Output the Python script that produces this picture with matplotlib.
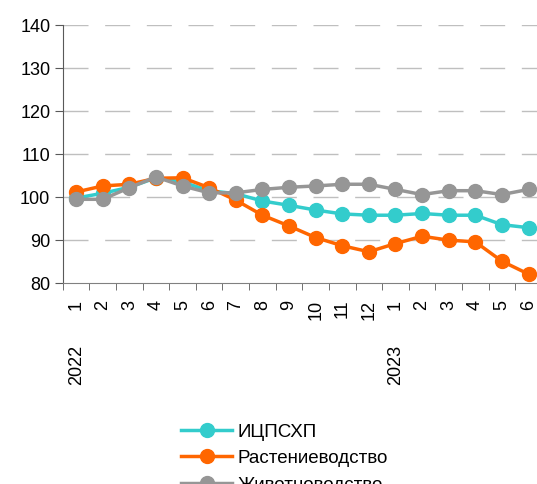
import matplotlib.pyplot as plt
from matplotlib.transforms import blended_transform_factory

plt.rcParams["font.family"] = ["Liberation Sans", "DejaVu Sans"]

# Data
months = ["1", "2", "3", "4", "5", "6", "7", "8", "9", "10", "11", "12",
          "1", "2", "3", "4", "5", "6"]
years = ["2022", "2023"]
year_start = [0, 12]
icpshp = [99.8, 100.9, 102.3, 104.5, 103.5, 101.5, 100.8, 99.1, 98.1, 97.0,
          96.1, 95.8, 95.8, 96.2, 95.8, 95.8, 93.6, 92.9]
plant = [101.2, 102.6, 103.0, 104.4, 104.5, 102.2, 99.3, 95.8, 93.3, 90.6,
         88.7, 87.3, 89.2, 90.9, 90.0, 89.6, 85.1, 82.1]
animal = [99.5, 99.5, 102.2, 104.7, 102.6, 101.0, 101.0, 101.8, 102.3, 102.6,
          103.0, 103.0, 101.8, 100.6, 101.5, 101.5, 100.6, 101.8]

fig = plt.figure(figsize=(5.37, 4.84), dpi=100)
ax = fig.add_axes([0.117, 0.415, 0.892, 0.533])

x = list(range(len(months)))
style = dict(marker="o", markersize=10, linewidth=2.5)
ax.plot(x, icpshp, color="#33CCCC", label="ИЦПСХП", **style)
ax.plot(x, plant, color="#FF6600", label="Растениеводство", **style)
ax.plot(x, animal, color="#969696", label="Животноводство", **style)

ax.set_ylim(80, 140)
ax.set_yticks(range(80, 141, 10))
ax.set_xlim(-0.5, len(months) - 0.5)

# category labels at centres, tick marks at boundaries
ax.set_xticks(x)
ax.set_xticklabels(months, rotation=90)
ax.set_xticks([i - 0.5 for i in range(len(months) + 1)], minor=True)
ax.tick_params(axis="x", which="major", length=0, pad=12, labelsize=13)
ax.tick_params(axis="x", which="minor", length=5, direction="out", color="#595959")
ax.tick_params(axis="y", length=6, direction="out", color="#595959", labelsize=13, pad=3)

# dashed horizontal grid
for v in range(90, 141, 10):
    ax.axhline(v, color="#BFBFBF", linewidth=1, linestyle=(0, (18, 12)), zorder=0)

for s in ["top", "right"]:
    ax.spines[s].set_visible(False)
ax.spines["left"].set_color("#595959")
ax.spines["bottom"].set_color("#808080")

trans = blended_transform_factory(ax.transData, ax.transAxes)
for yr, pos in zip(years, year_start):
    ax.text(pos, -0.24, yr, rotation=90, ha="center", va="top",
            fontsize=13, transform=trans)

fig.legend(loc="upper center", bbox_to_anchor=(0.53, 0.16), frameon=False,
           fontsize=13.5, handlelength=2.7, handletextpad=0.3, labelspacing=0.5)

plt.savefig("out.png", dpi=100)
